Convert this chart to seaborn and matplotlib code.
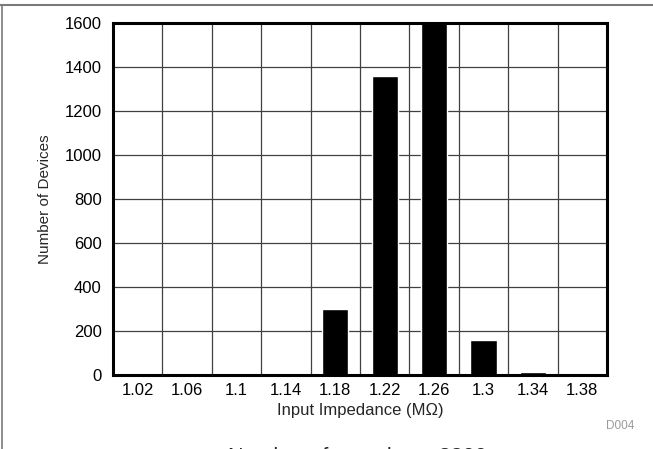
import numpy as np
import pandas as pd
import matplotlib
matplotlib.use('Agg')
import matplotlib.pyplot as plt
import seaborn as sns
from matplotlib.lines import Line2D

# values
bins = ['1.02', '1.06', '1.1', '1.14', '1.18', '1.22', '1.26', '1.3', '1.34', '1.38']
counts = [0, 0, 0, 0, 298, 1360, 1650, 158, 15, 0]
y_ticks = [0, 200, 400, 600, 800, 1000, 1200, 1400, 1600]

df = pd.DataFrame({'bin': bins, 'count': counts})

sns.set_style('white')
plt.rcParams['font.family'] = ['Liberation Sans', 'DejaVu Sans']

fig = plt.figure(figsize=(6.53, 4.49), dpi=100)
ax = fig.add_axes([0.173, 0.1648, 0.7566, 0.784])

sns.barplot(data=df, x='bin', y='count', order=bins, color='black',
            width=0.53, saturation=1, ax=ax)

ax.set_xlim(-0.5, len(bins) - 0.5)
ax.set_ylim(0, 1600)
ax.set_yticks(y_ticks)
ax.set_xticks(np.arange(-0.5, len(bins)), minor=True)

ax.set_axisbelow(True)
ax.grid(which='minor', axis='x', color='#404040', linewidth=0.9)
ax.grid(which='major', axis='y', color='#404040', linewidth=0.9)
ax.grid(which='major', axis='x', visible=False)

ax.tick_params(which='both', length=0, labelsize=12, colors='black')
ax.tick_params(axis='x', pad=6)
ax.tick_params(axis='y', pad=8)
for s in ax.spines.values():
    s.set_visible(True)
    s.set_color('black')
    s.set_linewidth(2.2)

ax.set_xlabel('Input Impedance (M\u03a9)', fontsize=12, labelpad=3)
ax.set_ylabel('Number of Devices', fontsize=11, labelpad=9)

# page frame and footer text
fig.add_artist(Line2D([0, 1], [1 - 5 / 449, 1 - 5 / 449], color='#7a7a7a', linewidth=1.5))
fig.add_artist(Line2D([1.5 / 653, 1.5 / 653], [0, 1 - 5 / 449], color='#7a7a7a', linewidth=1.2))
fig.text(0.972, 1 - 426 / 449, 'D004', fontsize=8.5, color='#9a9a9a', ha='right', va='center')
fig.text(0.547, -0.031, 'Number of samples = 3300', fontsize=15.5, ha='center', va='baseline')

fig.savefig('out.png', dpi=100)
